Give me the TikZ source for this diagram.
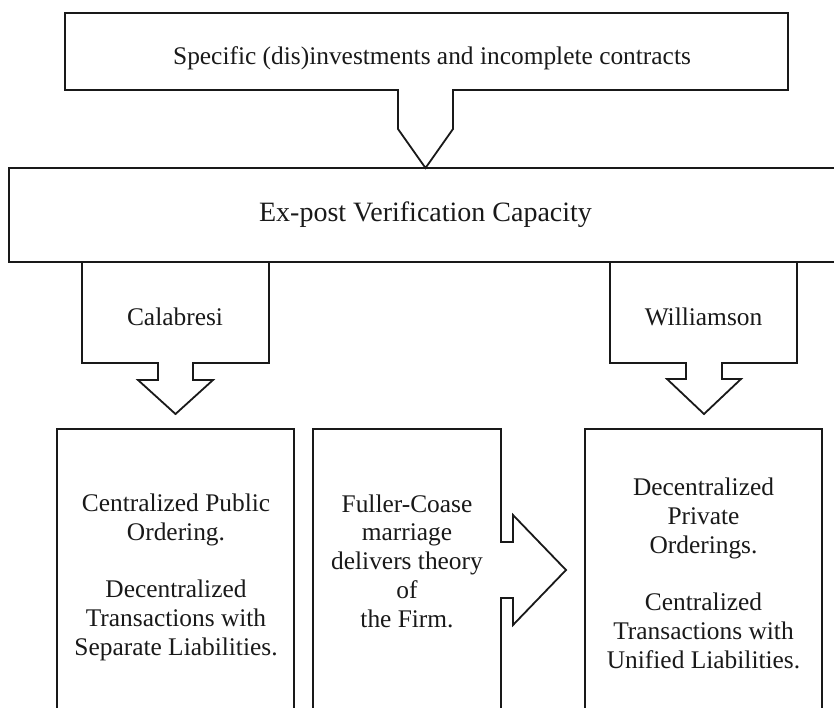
\documentclass[tikz,border=0pt]{standalone}
\usepackage{fontspec}
\setmainfont{Liberation Serif}
\begin{document}
\begin{tikzpicture}[x=1pt,y=-1pt,
  shape line/.style={draw=black!90, line width=1.8pt, line join=miter},
  lbl/.style={font=\fontsize{25.4}{28.7}\selectfont, inner sep=0pt, anchor=base, align=center, text=black!90},
  biglbl/.style={font=\fontsize{28}{31}\selectfont, inner sep=0pt, anchor=base, text=black!90}]
\useasboundingbox (0,0) rectangle (834,707);
% top callout
\draw[shape line] (65,13) -- (788,13) -- (788,90) -- (453,90) -- (453,129) -- (425.5,168)
  -- (398,129) -- (398,90) -- (65,90) -- cycle;
\node[lbl] (top) at (432,64) {Specific (dis)investments and incomplete contracts};
% big box (open to the right)
\draw[shape line] (845,168) -- (9,168) -- (9,262) -- (845,262);
\node[biglbl] (evc) at (425.5,221) {Ex-post Verification Capacity};
% Calabresi arrow
\draw[shape line] (82,262) -- (82,363) -- (158,363) -- (158,380) -- (138,380) -- (175.5,414)
  -- (213,380) -- (193,380) -- (193,363) -- (269,363) -- (269,262);
\node[lbl] (cal) at (175,325) {Calabresi};
% Williamson arrow
\draw[shape line] (610,262) -- (610,363) -- (686,363) -- (686,379) -- (667,379) -- (704,414)
  -- (741,379) -- (722,379) -- (722,363) -- (797,363) -- (797,262);
\node[lbl] (wil) at (703.5,325) {Williamson};
% bottom boxes
\draw[shape line] (57,715) -- (57,429) -- (294,429) -- (294,715);
\draw[shape line] (313,715) -- (313,429) -- (501,429) -- (501,542) -- (513,542) -- (513,515)
  -- (566,570) -- (513,625) -- (513,598) -- (501,598) -- (501,715);
\draw[shape line] (585,715) -- (585,429) -- (822,429) -- (822,715);
\node[lbl] (pub) at (176,655) {Centralized Public\\Ordering.\\[28.7pt]Decentralized\\Transactions with\\Separate Liabilities.};
\node[lbl] (fc) at (407,627) {Fuller-Coase\\marriage\\delivers theory\\of\\the Firm.};
\node[lbl] (priv) at (703.5,668) {Decentralized\\Private\\Orderings.\\[28.7pt]Centralized\\Transactions with\\Unified Liabilities.};
\end{tikzpicture}
\end{document}
